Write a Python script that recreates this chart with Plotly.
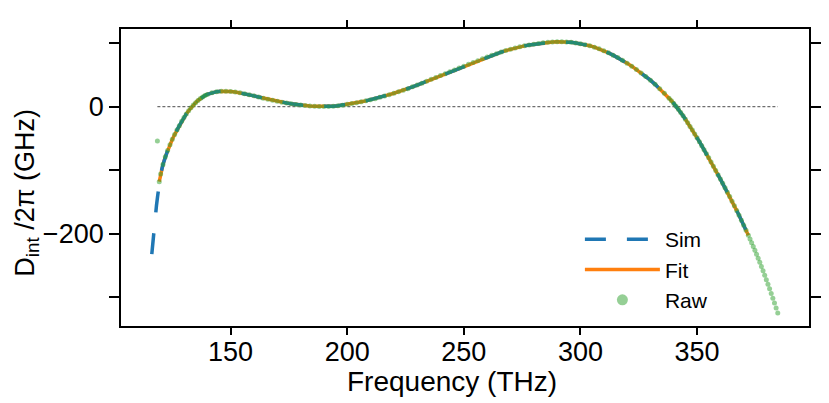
import plotly.graph_objects as go

# ---------------- data ----------------
freq_main = [119.4, 120, 121, 122, 123, 124, 125, 126, 127, 128,
             129, 130, 131, 132, 133, 134, 135, 136, 137, 138,
             139, 140,
             142, 144, 146, 148, 150, 152, 154, 156, 158, 160,
             162, 164, 166, 168, 170, 172, 174, 176, 178, 180,
             182, 184, 186, 188, 190, 192, 194, 196, 198, 200,
             202, 204, 206, 208, 210, 212, 214, 216, 218, 220,
             222, 224, 226, 228, 230, 232, 234, 236, 238, 240,
             242, 244, 246, 248, 250, 252, 254, 256, 258, 260,
             262, 264, 266, 268, 270, 272, 274, 276, 278, 280,
             282, 284, 286, 288, 290, 292, 294, 296, 298, 300,
             302, 304, 306, 308, 310, 312, 314, 316, 318, 320,
             322, 324, 326, 328, 330, 332, 334, 336, 338,
             339, 340, 341, 342, 343, 344, 345, 346, 347, 348,
             349, 350, 351, 352, 353, 354, 355, 356, 357, 358,
             359, 360, 361, 362, 363, 364, 365, 366, 367, 368,
             369, 370, 371, 372]
dint_main = [-118, -106, -91, -79, -69, -60, -51.5, -44, -37, -30,
             -23, -17, -11.5, -6.5, -1.8, 2.4, 6.2, 9.6, 12.6, 15.2,
             17.4, 19.2,
             21.9, 23.5, 24.2, 24.3, 23.8, 23.0, 21.8, 20.3, 18.6, 16.9,
             15.1, 13.3, 11.6, 10.0, 8.5, 7.0, 5.6, 4.4, 3.3, 2.4,
             1.6, 1.0, 0.5, 0.2, 0.1, 0.2, 0.6, 1.3, 2.3, 3.5,
             4.8, 6.2, 7.6, 9.0, 10.7, 12.5, 14.5, 16.6, 18.8, 21.0,
             23.2, 25.6, 28.2, 31.0, 33.9, 36.8, 39.8, 42.8, 45.8, 48.7,
             51.7, 54.6, 57.6, 60.5, 63.4, 66.4, 69.3, 72.2, 75.1, 77.9,
             80.6, 83.2, 85.7, 88.0, 90.1, 92.1, 93.9, 95.5, 96.9, 98.1,
             99.3, 100.3, 101.0, 101.6, 101.9, 101.9, 101.6, 101.0, 100.1, 98.9,
             97.4, 95.6, 93.4, 90.8, 87.8, 84.5, 80.9, 77.0, 72.8, 68.3,
             63.5, 58.4, 53.0, 47.5, 41.5, 35.0, 28.0, 20.8, 13.2,
             9.2, 5.0, 0.6, -4.0, -9.2, -14.5, -20.0, -25.5, -31.2, -37.0,
             -43.0, -49.0, -55.2, -61.5, -67.7, -74.0, -80.5, -87.0, -93.7, -100.5,
             -107.2, -114.0, -120.7, -127.5, -134.5, -141.5, -148.7, -156.0, -163.5, -171.0,
             -178.7, -186.5, -194.5, -202.5]

# simulation extends further to low frequency
sim_freq_low = [116.2, 116.7, 117.2, 117.7, 118.2, 118.7]
sim_dint_low = [-232, -210, -190, -172, -156, -141]

# raw data: one outlier at low frequency and a tail beyond the fit range
raw_freq_low = [118.6]
raw_dint_low = [-54]
raw_freq_tail = [372.7, 373.4, 374.1, 374.8, 375.5, 376.2, 376.9, 377.6, 378.3,
                 379.0, 379.7, 380.4, 381.1, 381.8, 382.5, 383.2, 383.9, 384.6]
raw_dint_tail = [-208.2, -214.0, -219.9, -226.0, -232.2, -238.5, -244.9, -251.5, -258.3,
                 -265.1, -272.1, -279.2, -286.5, -293.9, -301.4, -309.0, -316.8, -324.7]

x_ticks = [150, 200, 250, 300, 350]
y_ticks = [0, -200]
y_ticktext = ["0", "\u2212200"]
y_minor_step = 100

assert len(freq_main) == len(dint_main)

sim_freq = sim_freq_low + freq_main
sim_dint = sim_dint_low + dint_main
fit_freq = freq_main
fit_dint = dint_main
raw_freq = raw_freq_low + freq_main + raw_freq_tail
raw_dint = raw_dint_low + dint_main + raw_dint_tail

BLUE = "#1f77b4"
ORANGE = "#ff7f0e"
GREEN_A = "rgba(44,160,44,0.5)"
FONT = "Liberation Sans, Arial, Helvetica, sans-serif"

fig = go.Figure()

# zero reference line spanning the raw data
fig.add_trace(go.Scatter(
    x=[min(raw_freq), max(raw_freq)], y=[0, 0], mode="lines",
    line=dict(color="#6e6e6e", width=1.2, dash="3px,2px"),
    showlegend=False, hoverinfo="skip"))

fig.add_trace(go.Scatter(
    x=fit_freq, y=fit_dint, mode="lines", name="Fit", legendrank=2,
    line=dict(color=ORANGE, width=3.5)))

fig.add_trace(go.Scatter(
    x=sim_freq, y=sim_dint, mode="lines", name="Sim", legendrank=1,
    line=dict(color=BLUE, width=3.5, dash="21px,21px")))

fig.add_trace(go.Scatter(
    x=raw_freq, y=raw_dint, mode="markers", name="Raw", showlegend=False,
    marker=dict(color=GREEN_A, size=5, line=dict(width=0))))

# legend entry for raw (larger marker as in the reference legend)
fig.add_trace(go.Scatter(
    x=[None], y=[None], mode="markers", name="Raw", legendrank=3,
    marker=dict(color=GREEN_A, size=11, line=dict(width=0))))

fig.update_layout(
    width=829, height=403,
    margin=dict(l=121, r=20, t=29, b=77, autoexpand=False),
    paper_bgcolor="white", plot_bgcolor="white",
    font=dict(family=FONT, color="black", size=27),
    showlegend=True,
    legend=dict(x=0.667, y=0.36, xanchor="left", yanchor="top",
                bgcolor="rgba(0,0,0,0)", borderwidth=0,
                font=dict(size=21, family=FONT), itemwidth=75,
                tracegroupgap=0),
    xaxis=dict(range=[103, 398], tickvals=x_ticks, ticks="outside",
               ticklen=7, tickwidth=1.6, tickcolor="black",
               showline=True, linewidth=1.8, linecolor="black", mirror="ticks",
               showgrid=False, zeroline=False, automargin=False,
               tickfont=dict(size=27), ticklabelstandoff=-6),
    yaxis=dict(range=[-345, 122], tickvals=y_ticks, ticktext=y_ticktext,
               ticks="outside", ticklen=10, tickwidth=1.6, tickcolor="black",
               minor=dict(dtick=y_minor_step, tick0=0, ticks="outside", ticklen=10,
                          tickwidth=1.6, tickcolor="black", showgrid=False),
               showline=True, linewidth=1.8, linecolor="black", mirror="ticks",
               showgrid=False, zeroline=False, automargin=False,
               tickfont=dict(size=27)),
    annotations=[
        dict(text="Frequency (THz)", xref="paper", yref="paper",
             x=0.481, y=-0.188, xanchor="center", yanchor="middle",
             showarrow=False, font=dict(size=28, family=FONT, color="black")),
        dict(text="D<sub>int</sub> /2π (GHz)", textangle=-90,
             xref="paper", yref="paper", x=-0.137, y=0.448,
             xanchor="center", yanchor="middle", showarrow=False,
             font=dict(size=27, family=FONT, color="black")),
    ],
)

fig.write_html("out.html", config={"displayModeBar": False},
               post_script="document.body.style.margin='0';document.body.style.overflow='hidden';")
